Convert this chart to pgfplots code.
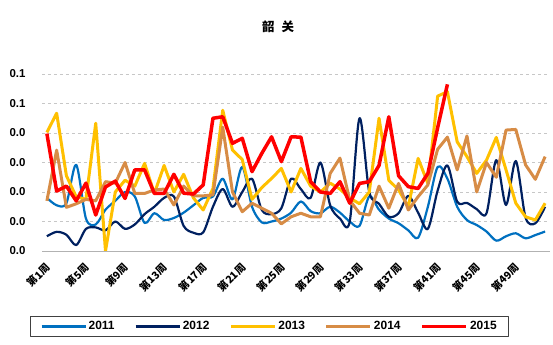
\documentclass[border=0pt]{standalone}
\usepackage{pgfplots}
\pgfplotsset{compat=1.18}
\usepackage{pgfplotstable}
\usepackage{fontspec}
\setmainfont{Liberation Sans}
\newfontfamily\cjk{Noto Sans CJK SC}
\definecolor{c2011}{RGB}{0,112,192}
\definecolor{c2012}{RGB}{0,32,96}
\definecolor{c2013}{RGB}{255,192,0}
\definecolor{c2014}{RGB}{215,140,70}
\definecolor{c2015}{RGB}{255,0,0}
\pgfplotstableread{
week y11 y12 y13 y14 y15
1 0.0180 0.0050 0.0402 0.0170 0.0398
2 0.0155 0.0065 0.0467 0.0342 0.0203
3 0.0162 0.0055 0.0255 0.0148 0.0220
4 0.0292 0.0020 0.0184 0.0160 0.0170
5 0.0110 0.0075 0.0175 0.0175 0.0230
6 0.0090 0.0080 0.0433 0.0170 0.0122
7 0.0140 0.0070 0.0000 0.0235 0.0217
8 0.0170 0.0100 0.0200 0.0230 0.0237
9 0.0200 0.0075 0.0240 0.0300 0.0178
10 0.0185 0.0090 0.0220 0.0195 0.0275
11 0.0095 0.0125 0.0297 0.0195 0.0275
12 0.0128 0.0150 0.0195 0.0207 0.0195
13 0.0105 0.0180 0.0290 0.0210 0.0195
14 0.0112 0.0185 0.0200 0.0156 0.0260
15 0.0130 0.0085 0.0260 0.0220 0.0196
16 0.0155 0.0062 0.0180 0.0187 0.0193
17 0.0180 0.0063 0.0139 0.0187 0.0224
18 0.0185 0.0150 0.0212 0.0190 0.0450
19 0.0245 0.0210 0.0477 0.0420 0.0455
20 0.0175 0.0150 0.0342 0.0200 0.0365
21 0.0285 0.0200 0.0310 0.0133 0.0382
22 0.0150 0.0245 0.0175 0.0162 0.0269
23 0.0097 0.0139 0.0215 0.0145 0.0331
24 0.0100 0.0125 0.0246 0.0128 0.0387
25 0.0110 0.0145 0.0280 0.0092 0.0303
26 0.0130 0.0245 0.0200 0.0116 0.0387
27 0.0168 0.0210 0.0280 0.0128 0.0386
28 0.0135 0.0180 0.0220 0.0116 0.0235
29 0.0128 0.0300 0.0200 0.0116 0.0200
30 0.0150 0.0155 0.0230 0.0263 0.0195
31 0.0130 0.0110 0.0210 0.0315 0.0235
32 0.0100 0.0100 0.0180 0.0172 0.0162
33 0.0085 0.0450 0.0160 0.0128 0.0229
34 0.0185 0.0200 0.0200 0.0122 0.0235
35 0.0140 0.0160 0.0450 0.0220 0.0290
36 0.0110 0.0116 0.0240 0.0145 0.0455
37 0.0094 0.0128 0.0207 0.0229 0.0255
38 0.0070 0.0187 0.0150 0.0139 0.0218
39 0.0045 0.0130 0.0314 0.0184 0.0212
40 0.0150 0.0075 0.0229 0.0224 0.0263
41 0.0285 0.0205 0.0525 0.0345 0.0418
42 0.0245 0.0290 0.0540 0.0386 0.0565
43 0.0150 0.0167 0.0370 0.0275 nan
44 0.0105 0.0163 0.0320 0.0390 nan
45 0.0088 0.0142 0.0263 0.0200 nan
46 0.0066 0.0128 0.0308 0.0300 nan
47 0.0035 0.0308 0.0385 0.0250 nan
48 0.0050 0.0156 0.0275 0.0410 nan
49 0.0060 0.0305 0.0162 0.0412 nan
50 0.0043 0.0113 0.0116 0.0292 nan
51 0.0054 0.0094 0.0105 0.0243 nan
52 0.0066 0.0150 0.0162 0.0320 nan
}\datatable
\begin{document}
\begin{tikzpicture}
\path[use as bounding box] (0,0) rectangle (553bp,345bp);
\begin{axis}[
  at={(42bp,94bp)}, anchor=south west,
  scale only axis, width=508bp, height=177bp,
  xmin=0.5, xmax=52.5, ymin=0, ymax=0.06,
  ytick={0,0.01,0.02,0.03,0.04,0.05,0.06},
  yticklabels={0.0,0.0,0.0,0.0,0.0,0.1,0.1},
  scaled y ticks=false,
  xtick={1,5,9,13,17,21,25,29,33,37,41,45,49},
  xticklabels={第1周,第5周,第9周,第13周,第17周,第21周,第25周,第29周,第33周,第37周,第41周,第45周,第49周},
  major tick length=0pt,
  axis lines*=left,
  x axis line style={draw=black!30, line width=0.8bp},
  y axis line style={draw=none},
  ymajorgrids, grid style={dashed, black!22, line width=0.6bp},
  yticklabel style={font=\fontsize{11.5}{13}\selectfont\bfseries, xshift=-13bp},
  xticklabel style={font=\cjk\fontsize{10.5}{12}\selectfont\bfseries, rotate=45, anchor=north east, inner sep=1bp, yshift=-5bp, xshift=-8bp},
  title={\cjk\bfseries\fontsize{12.5}{14}\selectfont 韶\hspace{7bp}关},
  title style={at={(0.4646,1.2316)}, anchor=center},
  legend columns=5,
  legend style={at={(0.448,-0.4266)}, anchor=center, draw=black!75, line width=0.8bp,
    font=\fontsize{12}{14}\selectfont\bfseries, inner xsep=10bp, inner ysep=3bp,
    /tikz/every even column/.append style={column sep=18bp}},
  legend image code/.code={\draw[#1] (0bp,0bp) -- (44bp,0bp);},
  line join=round,
]
\addplot[c2011, line width=2.2bp, smooth] table[x=week,y=y11]{\datatable};
\addlegendentry{2011}
\addplot[c2012, line width=2.2bp, smooth] table[x=week,y=y12]{\datatable};
\addlegendentry{2012}
\addplot[c2013, line width=3bp] table[x=week,y=y13]{\datatable};
\addlegendentry{2013}
\addplot[c2014, line width=3bp] table[x=week,y=y14]{\datatable};
\addlegendentry{2014}
\addplot[c2015, line width=3.5bp] table[x=week,y=y15]{\datatable};
\addlegendentry{2015}
\end{axis}
\end{tikzpicture}
\end{document}
